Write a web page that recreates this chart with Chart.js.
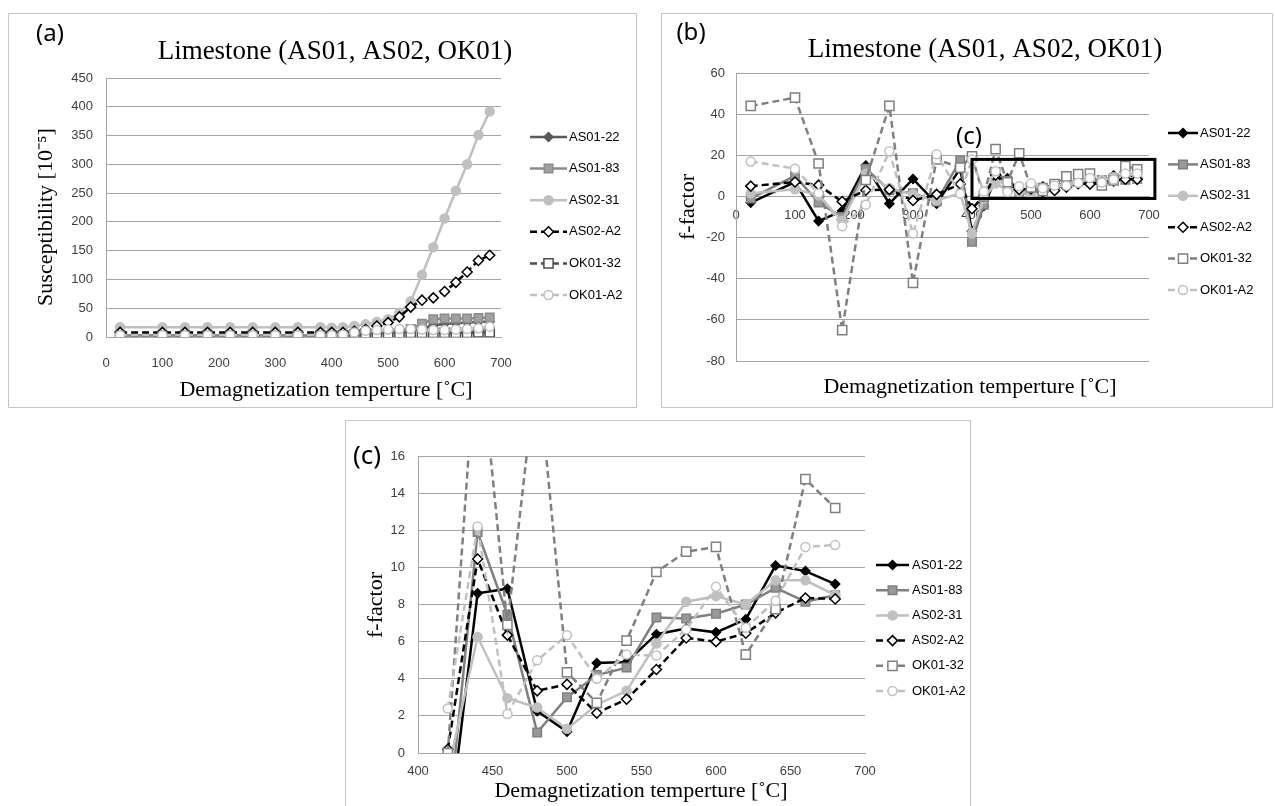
<!DOCTYPE html>
<html lang="en">
<head>
<meta charset="UTF-8">
<title>Limestone (AS01, AS02, OK01)</title>
<script src="https://cdn.jsdelivr.net/npm/chart.js"></script>
<style>
  html, body {
    margin: 0;
    padding: 0;
    background: #fff;
    overflow: hidden;
  }
  canvas {
    position: absolute;
    display: block;
  }
</style>
</head>
<body>
<canvas id="chartA" width="629" height="395" style="left:8px;top:13px"></canvas>
<canvas id="chartB" width="612" height="395" style="left:661px;top:13px"></canvas>
<canvas id="chartC" width="626" height="386" style="left:345px;top:420px"></canvas>
<script>
  // demagnetization steps [°C]
  const temps = [25, 100, 140, 180, 220, 260, 300, 340, 380, 400, 420, 440, 460, 480, 500, 520, 540, 560, 580, 600, 620, 640, 660, 680]
  const sampleNames = ['AS01-22', 'AS01-83', 'AS02-31', 'AS02-A2', 'OK01-32', 'OK01-A2']

  // susceptibility [10^-5]
  const suscAS0122 = [3, 3, 3, 3, 3, 3, 3, 3, 3, 3, 3, 4, 5, 6, 7, 8, 10, 14, 20, 23, 24, 25, 26, 27]
  const suscAS0183 = [3, 3, 3, 3, 3, 3, 3, 3, 3, 3, 3, 4, 5, 6, 7, 8, 14, 23, 31, 32, 32, 32, 33, 34]
  const suscAS0231 = [17, 17, 17, 17, 17, 17, 17, 17, 17, 16, 17, 19, 22, 26, 31, 42, 62, 108, 156, 206, 254, 300, 351, 392]
  const suscAS02A2 = [8, 8, 8, 8, 8, 8, 8, 8, 8, 8, 8, 10, 13, 19, 25, 35, 52, 64, 68, 79, 95, 113, 133, 142]
  const suscOK0132 = [2, 2, 2, 2, 2, 2, 2, 2, 2, 2, 3, 4, 5, 5, 6, 6, 7, 7, 7, 7, 7, 7, 8, 8]
  const suscOK01A2 = [3, 3, 3, 3, 3, 3, 3, 3, 3, 3, 4, 8, 11, 12, 13, 14, 14, 13, 12, 12, 13, 14, 15, 18]

  // f-factor
  const fAS0122 = [-3, 7, -12, -7, 15, -3.5, 8.5, -3.5, 13.5, -17, -4.6, 8.6, 8.85, 2.25, 1.15, 4.85, 4.9, 6.4, 6.7, 6.5, 7.2, 10.1, 9.8, 9.1]
  const fAS0183 = [-1, 10, -3, -10, 13.5, 3, 1.5, -2.5, 17.5, -22, -4, 11.9, 7.45, 1.1, 3.0, 4.2, 4.6, 7.3, 7.25, 7.5, 8.0, 8.9, 8.15, 8.5]
  const fAS0231 = [1.5, 3.5, 0.5, -12, 11, 4, 1, -2, 1.5, -18, -1, 6.25, 2.95, 2.45, 1.3, 2.6, 3.35, 5.9, 8.15, 8.45, 8.0, 9.3, 9.3, 8.5]
  const fAS02A2 = [5, 7, 5.5, -2.5, 3, 3.3, -2, 1, 6, -6, 0.2, 10.45, 6.35, 3.35, 3.7, 2.15, 2.9, 4.5, 6.2, 6.0, 6.45, 7.55, 8.35, 8.3]
  const fOK0132 = [44, 48, 16, -65, 8, 44, -42, 18, 14, 19.5, 0, 23, 6.9, 21, 4.35, 2.7, 6.05, 9.75, 10.85, 11.1, 5.3, 7.75, 14.75, 13.2]
  const fOK01A2 = [17, 13.5, 1.5, -14.5, -4, 22, -18, 20.5, 1.3, 18, 2.4, 12.2, 2.1, 5.0, 6.35, 4.0, 5.3, 5.25, 6.65, 8.95, 6.75, 8.2, 11.1, 11.2]

  // the (c) close-up starts at 420 °C; box drawn on (b) in data units
  const closeUpFrom = 420
  const closeUpBox = [400, 710, -1, 18]

  const suscSeries = [suscAS0122, suscAS0183, suscAS0231, suscAS02A2, suscOK0132, suscOK01A2]
  const fSeries = [fAS0122, fAS0183, fAS0231, fAS02A2, fOK0132, fOK01A2]

  const DASH = [7, 4]
  const stylesA = [
    { line: '#595959', fill: '#595959', dash: [], shape: 'rectRot', r: 4.5 },
    { line: '#8c8c8c', fill: '#a0a0a0', dash: [], shape: 'rect', r: 6 },
    { line: '#c0c0c0', fill: '#c0c0c0', dash: [], shape: 'circle', r: 4.5 },
    { line: '#000000', fill: '#ffffff', dash: DASH, shape: 'rectRot', r: 5 },
    { line: '#4d4d4d', fill: '#ffffff', dash: DASH, shape: 'rect', r: 6.5 },
    { line: '#c0c0c0', fill: '#ffffff', dash: DASH, shape: 'circle', r: 4.5 },
  ]
  const stylesF = [
    { line: '#000000', fill: '#000000', dash: [], shape: 'rectRot', r: 4.5 },
    { line: '#808080', fill: '#999999', dash: [], shape: 'rect', r: 6 },
    { line: '#c0c0c0', fill: '#c0c0c0', dash: [], shape: 'circle', r: 4.5 },
    { line: '#000000', fill: '#ffffff', dash: DASH, shape: 'rectRot', r: 5 },
    { line: '#808080', fill: '#ffffff', dash: DASH, shape: 'rect', r: 6.5 },
    { line: '#c0c0c0', fill: '#ffffff', dash: DASH, shape: 'circle', r: 4.5 },
  ]

  const gridColor = '#a6a6a6'
  const tickFont = { family: 'Liberation Sans', size: 13 }
  const serif = '"Liberation Serif", "Times New Roman", serif'

  function makeSets(series, styles, fromTemp) {
    const start = temps.indexOf(fromTemp)
    return sampleNames.map((name, i) => ({
      label: name,
      data: temps.slice(start).map((t, j) => ({ x: t, y: series[i][start + j] })),
      borderColor: styles[i].line,
      borderWidth: 2.5,
      borderDash: styles[i].dash,
      pointStyle: styles[i].shape,
      pointRadius: styles[i].r,
      pointHoverRadius: styles[i].r,
      pointBackgroundColor: styles[i].fill,
      pointBorderColor: styles[i].line,
      pointBorderWidth: 1.5,
      tension: 0,
      fill: false,
      order: sampleNames.length - 1 - i,
    }))
  }

  // frame, titles, legend and the (c) box
  const deco = {
    id: 'deco',
    afterDraw(chart, args, o) {
      const ctx = chart.ctx
      const W = chart.width, H = chart.height
      ctx.save()
      ctx.strokeStyle = '#c4c4c4'
      ctx.lineWidth = 1
      ctx.setLineDash([])
      ctx.beginPath()
      if (o.openBottom) {
        ctx.moveTo(0.5, H); ctx.lineTo(0.5, 0.5); ctx.lineTo(W - 0.5, 0.5); ctx.lineTo(W - 0.5, H)
      } else {
        ctx.rect(0.5, 0.5, W - 1, H - 1)
      }
      ctx.stroke()

      ctx.fillStyle = '#000'
      ctx.textAlign = 'center'
      ctx.textBaseline = 'middle'
      o.labels.forEach(l => {
        ctx.font = l.size + 'px "Noto Sans", sans-serif'
        ctx.fillText(l.text, l.x, l.y)
      })
      if (o.title) {
        ctx.font = '27px ' + serif
        ctx.fillText(o.title, o.titleAt[0], o.titleAt[1])
      }
      ctx.font = '22px ' + serif
      ctx.fillText(o.xTitle, o.xTitleAt[0], o.xTitleAt[1])
      ctx.save()
      ctx.translate(o.yTitleAt[0], o.yTitleAt[1])
      ctx.rotate(-Math.PI / 2)
      ctx.fillText(o.yTitle, 0, 0)
      ctx.restore()

      if (o.box) {
        const xs = chart.scales.x, ys = chart.scales.y
        const x0 = xs.getPixelForValue(o.box[0]), x1 = xs.getPixelForValue(o.box[1])
        const y0 = ys.getPixelForValue(o.box[3]), y1 = ys.getPixelForValue(o.box[2])
        ctx.strokeStyle = '#000'
        ctx.lineWidth = 3
        ctx.strokeRect(x0, y0, x1 - x0, y1 - y0)
      }

      const L = o.legend
      chart.data.datasets.forEach((ds, i) => {
        const y = L.y0 + i * L.dy
        ctx.strokeStyle = ds.borderColor
        ctx.lineWidth = ds.borderWidth
        ctx.setLineDash(ds.borderDash)
        ctx.beginPath()
        ctx.moveTo(L.x0, y)
        ctx.lineTo(L.x1, y)
        ctx.stroke()
        ctx.setLineDash([])
        ctx.fillStyle = ds.pointBackgroundColor
        ctx.strokeStyle = ds.pointBorderColor
        ctx.lineWidth = ds.pointBorderWidth
        Chart.helpers.drawPoint(ctx, { pointStyle: ds.pointStyle, radius: ds.pointRadius, borderWidth: ds.pointBorderWidth, rotation: 0 }, (L.x0 + L.x1) / 2, y)
        ctx.fillStyle = '#000'
        ctx.font = '13px "Liberation Sans", sans-serif'
        ctx.textAlign = 'left'
        ctx.fillText(ds.label, L.xt, y)
      })
      ctx.restore()
    }
  }

  function yAxis(min, max, step, width, pad) {
    return {
      type: 'linear', position: 'left', min, max,
      afterFit: s => { s.width = width },
      ticks: { stepSize: step, padding: pad, color: '#404040', font: tickFont },
      grid: { color: gridColor, drawTicks: false },
      border: { color: gridColor },
    }
  }
  function xAxis(min, max, step, pad, extra) {
    return Object.assign({
      type: 'linear', position: 'bottom', min, max,
      ticks: { stepSize: step, padding: pad, color: '#404040', font: tickFont, maxRotation: 0 },
      grid: { display: false, drawTicks: false },
      border: { color: gridColor },
    }, extra || {})
  }

  const common = { responsive: false, animation: false, events: [] }

  // (a) susceptibility
  new Chart(document.getElementById('chartA'), {
    type: 'line',
    data: { datasets: makeSets(suscSeries, stylesA, temps[0]) },
    plugins: [deco],
    options: Object.assign({}, common, {
      layout: { padding: { left: 0, right: 136, top: 65, bottom: 0 } },
      scales: {
        x: xAxis(0, 700, 100, 19, { afterFit: s => { s.height = 71 } }),
        y: yAxis(0, 450, 50, 98, 13),
      },
      plugins: {
        legend: { display: false }, tooltip: { enabled: false },
        deco: {
          labels: [{ text: '(a)', x: 42, y: 21, size: 24 }],
          title: 'Limestone (AS01, AS02, OK01)', titleAt: [327, 39],
          xTitle: 'Demagnetization temperture [˚C]', xTitleAt: [318, 377],
          yTitle: 'Susceptibility [10⁻⁵]', yTitleAt: [38, 204],
          legend: { x0: 522, x1: 559, xt: 561, y0: 124, dy: 31.6 },
        }
      }
    })
  })

  // (b) f-factor, full range
  new Chart(document.getElementById('chartB'), {
    type: 'line',
    data: { datasets: makeSets(fSeries, stylesF, temps[0]) },
    plugins: [deco],
    options: Object.assign({}, common, {
      layout: { padding: { left: 0, right: 124, top: 60, bottom: 47 } },
      scales: {
        x: xAxis(0, 700, 100, 11, { position: { y: 0 } }),
        y: yAxis(-80, 60, 20, 75, 11),
      },
      plugins: {
        legend: { display: false }, tooltip: { enabled: false },
        deco: {
          labels: [{ text: '(b)', x: 30, y: 20, size: 24 }, { text: '(c)', x: 308, y: 124, size: 24 }],
          title: 'Limestone (AS01, AS02, OK01)', titleAt: [324, 37],
          xTitle: 'Demagnetization temperture [˚C]', xTitleAt: [309, 374],
          yTitle: 'f-factor', yTitleAt: [27, 194],
          box: closeUpBox,
          legend: { x0: 507, x1: 537, xt: 539, y0: 120, dy: 31.4 },
        }
      }
    })
  })

  // (c) f-factor close-up
  new Chart(document.getElementById('chartC'), {
    type: 'line',
    data: { datasets: makeSets(fSeries, stylesF, closeUpFrom) },
    plugins: [deco],
    options: Object.assign({}, common, {
      layout: { padding: { left: 0, right: 106, top: 36, bottom: 0 } },
      scales: {
        x: xAxis(400, 700, 50, 11, { afterFit: s => { s.height = 53 } }),
        y: yAxis(0, 16, 2, 73, 13),
      },
      plugins: {
        legend: { display: false }, tooltip: { enabled: false },
        deco: {
          openBottom: true,
          labels: [{ text: '(c)', x: 22, y: 37, size: 26 }],
          title: '',
          xTitle: 'Demagnetization temperture [˚C]', xTitleAt: [296, 371],
          yTitle: 'f-factor', yTitleAt: [31, 185],
          legend: { x0: 531, x1: 564, xt: 567, y0: 145, dy: 25.2 },
        }
      }
    })
  })
</script>
</body>
</html>
